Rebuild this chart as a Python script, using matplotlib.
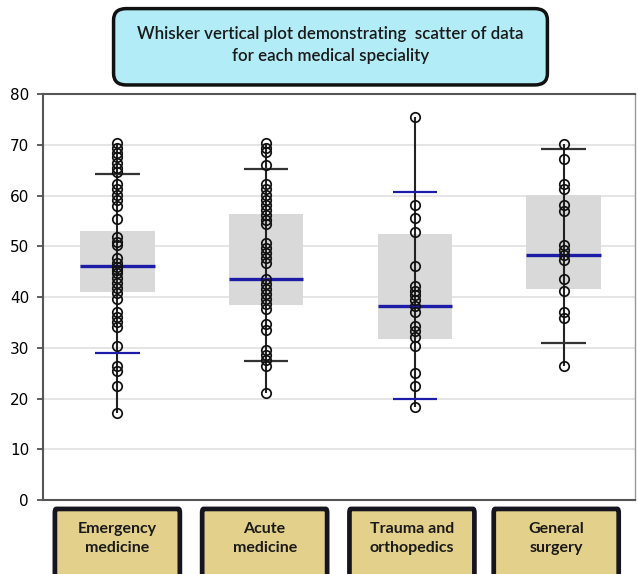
import matplotlib.pyplot as plt
from matplotlib.patches import FancyBboxPatch
import matplotlib.transforms as mtransforms

# categories and read-off values
categories = ['Emergency\nmedicine', 'Acute\nmedicine', 'Trauma and\northopedics', 'General\nsurgery']

emergency = [70.4, 69.4, 68.4, 67.5, 66.5, 65.5, 64.6, 62.2, 61.2, 60.2, 59.2, 58.0,
             55.4, 51.9, 50.9, 50.2, 47.7, 46.7, 46.0, 45.3, 44.7, 43.7, 42.7, 41.7,
             40.7, 39.6, 37.1, 36.1, 35.1, 34.1, 30.3, 26.5, 25.5, 22.4, 17.1]
acute = [70.4, 69.4, 68.6, 66.1, 62.2, 61.2, 60.2, 59.2, 58.2, 57.2, 56.2, 55.2,
         54.3, 50.6, 49.6, 48.7, 47.7, 46.7, 43.6, 42.6, 41.6, 40.6, 39.6, 38.6,
         37.6, 34.7, 33.5, 29.5, 28.5, 27.5, 26.4, 21.0]
trauma = [75.4, 58.2, 55.6, 52.8, 46.2, 42.2, 41.2, 40.3, 39.4, 38.3, 37.1, 34.3,
          33.3, 32.1, 30.4, 25.0, 22.5, 18.4]
general = [70.2, 67.1, 62.2, 61.2, 58.1, 57.0, 50.2, 49.2, 48.3, 47.3, 43.5, 41.1,
           37.1, 35.8, 26.4]
points = [emergency, acute, trauma, general]

q1 = [40.9, 38.4, 31.7, 41.6]
median = [46.2, 43.6, 38.2, 48.3]
q3 = [53.1, 56.4, 52.5, 60.1]
whisker_low = [29.0, 27.3, 19.9, 31.0]
whisker_high = [64.2, 65.3, 60.7, 69.2]

BLUE = '#1c1ca8'
low_cap_color = [BLUE, '#333333', BLUE, '#333333']
high_cap_color = ['#333333', '#333333', BLUE, '#333333']

fig = plt.figure(figsize=(6.38, 5.74), dpi=100)
ax = fig.add_axes([0.0674, 0.1289, 0.928, 0.7073])

x = list(range(len(categories)))

ax.bar(x, [b - a for a, b in zip(q1, q3)], bottom=q1, width=0.5,
       color='#d9d9d9', zorder=2)

for i, vals in enumerate(points):
    ax.vlines(i, min(vals), max(vals), color='#222222', lw=1.5, zorder=3)
    ax.hlines(whisker_low[i], i - 0.15, i + 0.15, color=low_cap_color[i], lw=1.6, zorder=3)
    ax.hlines(whisker_high[i], i - 0.15, i + 0.15, color=high_cap_color[i], lw=1.6, zorder=3)
    ax.hlines(median[i], i - 0.25, i + 0.25, color=BLUE, lw=2.4, zorder=4)
    ax.plot([i] * len(vals), vals, 'o', ms=6.8, mfc='none', mec='#111111',
            mew=1.25, zorder=5)

ax.set_xlim(-0.5, 3.48)
ax.set_ylim(0, 80)
ax.set_yticks(range(0, 81, 10))
ax.set_xticks([])
ax.grid(axis='y', color='#e0e0e0', lw=1.2, zorder=0)
ax.set_axisbelow(True)
ax.tick_params(axis='y', labelsize=11, length=4, width=1.2, color='#444444', pad=6)
for s in ['left', 'bottom', 'top']:
    ax.spines[s].set_color('#555555')
    ax.spines[s].set_linewidth(1.5)
ax.spines['right'].set_color('#999999')
ax.spines['right'].set_linewidth(1)

# category label boxes under the axis
trans = mtransforms.blended_transform_factory(ax.transData, ax.transAxes)
label_x = [0.0, 0.99, 1.98, 2.95]
for lx, lab in zip(label_x, categories):
    box = FancyBboxPatch((lx - 0.42, -0.3), 0.84, 0.278,
                         boxstyle='round,pad=0,rounding_size=0.01',
                         transform=trans, clip_on=False,
                         facecolor='#e3d08a', edgecolor='#15151f', lw=3.4)
    ax.add_patch(box)
    ax.text(lx, -0.095, lab, transform=trans, ha='center', va='center',
            fontsize=11.5, family='Lato', fontweight='bold',
            color='#1a1a1a', linespacing=1.45)

# title box
tbox = FancyBboxPatch((0.178, 0.852), 0.680, 0.133,
                      boxstyle='round,pad=0,rounding_size=0.02',
                      transform=fig.transFigure, facecolor='#b2ecf6',
                      edgecolor='#111111', lw=2.5)
fig.patches.append(tbox)
fig.text(0.518, 0.921, 'Whisker vertical plot demonstrating  scatter of data\nfor each medical speciality',
         ha='center', va='center', fontsize=12.2, family='Lato',
         fontweight='semibold', color='#1a1a1a', linespacing=1.45)

fig.savefig('out.png', dpi=100)
